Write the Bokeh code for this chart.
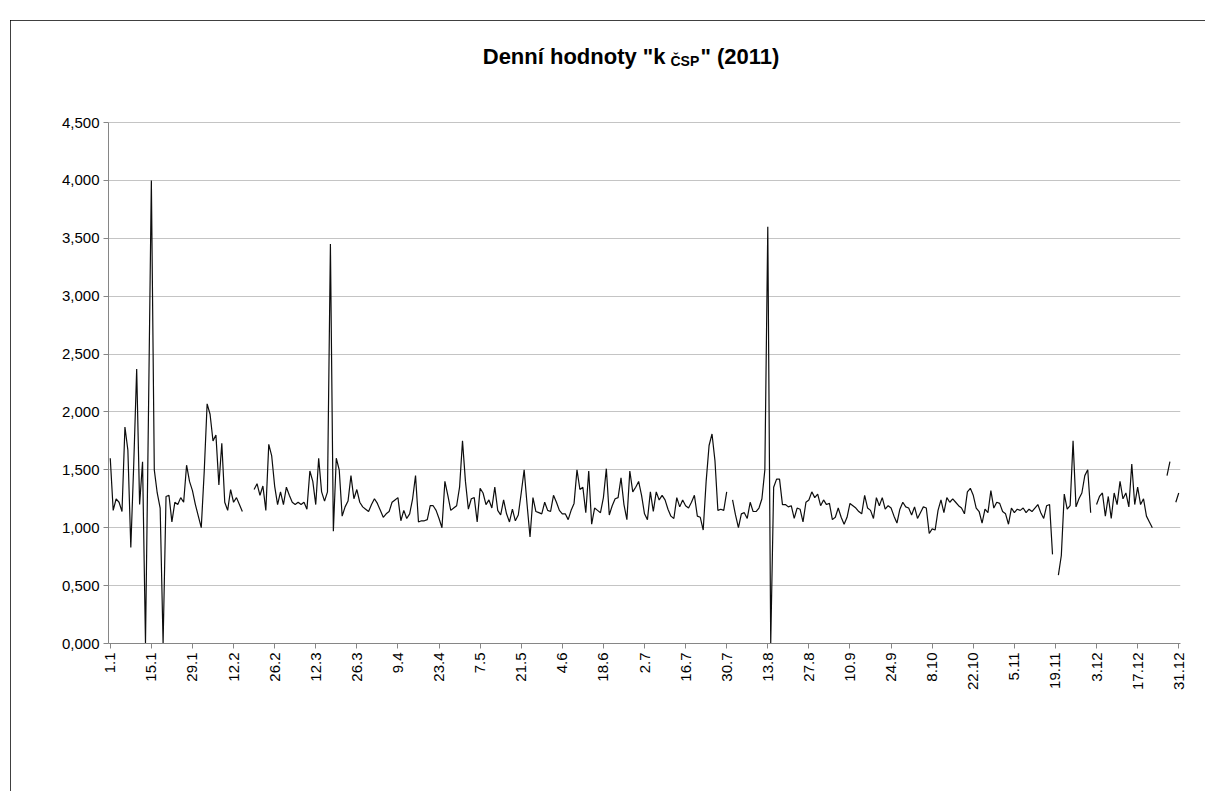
import math
import numpy as np
import pandas as pd
from bokeh.plotting import figure
from bokeh.models import (ColumnDataSource, Range1d, FixedTicker,
                          CustomJSTickFormatter)
from bokeh.core.properties import value
from bokeh.embed import file_html
from bokeh.resources import INLINE

# ---------------- data ----------------
year_days = pd.date_range("2011-01-01", "2011-12-31", freq="D")
day_labels = [f"{d.day}.{d.month}" for d in year_days]

tick_labels = ["1.1", "15.1", "29.1", "12.2", "26.2", "12.3", "26.3", "9.4",
               "23.4", "7.5", "21.5", "4.6", "18.6", "2.7", "16.7", "30.7",
               "13.8", "27.8", "10.9", "24.9", "8.10", "22.10", "5.11",
               "19.11", "3.12", "17.12", "31.12"]

y_ticks = [0.0, 0.5, 1.0, 1.5, 2.0, 2.5, 3.0, 3.5, 4.0, 4.5]

title_parts = ['Denní hodnoty "k', "ČSP", '" (2011)']

N = None
k_values = [
    1.60, 1.15, 1.25, 1.22, 1.14, 1.87, 1.67, 0.83, 1.55, 2.37,
    1.20, 1.57, 0.00, 1.95, 4.00, 1.50, 1.30, 1.17, 0.00, 1.27,
    1.28, 1.05, 1.22, 1.20, 1.26, 1.22, 1.54, 1.40, 1.32, 1.20,
    1.10, 1.00, 1.48, 2.07, 1.98, 1.75, 1.80, 1.37, 1.73, 1.22,
    1.15, 1.33, 1.22, 1.26, 1.20, 1.14, N, N, N, 1.33,
    1.38, 1.28, 1.36, 1.15, 1.72, 1.62, 1.36, 1.20, 1.31, 1.20,
    1.35, 1.28, 1.22, 1.20, 1.22, 1.20, 1.22, 1.16, 1.49, 1.40,
    1.20, 1.60, 1.31, 1.23, 1.31, 3.45, 0.97, 1.60, 1.50, 1.10,
    1.18, 1.23, 1.45, 1.25, 1.33, 1.22, 1.18, 1.16, 1.14, 1.20,
    1.25, 1.21, 1.15, 1.09, 1.12, 1.14, 1.22, 1.24, 1.26, 1.06,
    1.15, 1.08, 1.12, 1.25, 1.45, 1.05, 1.06, 1.06, 1.07, 1.19,
    1.19, 1.15, 1.08, 1.00, 1.40, 1.28, 1.15, 1.17, 1.19, 1.35,
    1.75, 1.40, 1.16, 1.25, 1.26, 1.05, 1.34, 1.30, 1.20, 1.24,
    1.17, 1.35, 1.15, 1.11, 1.24, 1.12, 1.05, 1.16, 1.06, 1.11,
    1.30, 1.50, 1.20, 0.92, 1.26, 1.14, 1.13, 1.12, 1.22, 1.15,
    1.14, 1.28, 1.22, 1.15, 1.12, 1.12, 1.07, 1.15, 1.21, 1.50,
    1.33, 1.35, 1.13, 1.49, 1.03, 1.17, 1.15, 1.13, 1.26, 1.51,
    1.11, 1.19, 1.25, 1.26, 1.43, 1.20, 1.07, 1.49, 1.31, 1.35,
    1.40, 1.28, 1.12, 1.07, 1.31, 1.14, 1.31, 1.24, 1.28, 1.24,
    1.16, 1.10, 1.08, 1.26, 1.18, 1.24, 1.19, 1.17, 1.22, 1.28,
    1.10, 1.09, 0.98, 1.40, 1.71, 1.81, 1.58, 1.15, 1.16, 1.15,
    1.31, N, 1.24, 1.11, 1.00, 1.12, 1.13, 1.08, 1.22, 1.14,
    1.14, 1.17, 1.25, 1.50, 3.60, 0.00, 1.35, 1.42, 1.42, 1.20,
    1.20, 1.18, 1.19, 1.08, 1.17, 1.16, 1.05, 1.22, 1.24, 1.31,
    1.26, 1.29, 1.19, 1.24, 1.20, 1.21, 1.07, 1.09, 1.17, 1.09,
    1.03, 1.09, 1.21, 1.19, 1.17, 1.14, 1.12, 1.28, 1.17, 1.15,
    1.08, 1.26, 1.19, 1.26, 1.16, 1.19, 1.17, 1.10, 1.04, 1.16,
    1.22, 1.18, 1.17, 1.11, 1.18, 1.08, 1.13, 1.18, 1.17, 0.95,
    0.99, 0.98, 1.15, 1.24, 1.13, 1.26, 1.22, 1.25, 1.22, 1.19,
    1.17, 1.12, 1.31, 1.34, 1.28, 1.17, 1.14, 1.04, 1.16, 1.13,
    1.32, 1.17, 1.22, 1.21, 1.14, 1.12, 1.03, 1.17, 1.13, 1.16,
    1.15, 1.17, 1.13, 1.16, 1.14, 1.17, 1.20, 1.13, 1.08, 1.19,
    1.20, 0.77, N, 0.59, 0.76, 1.29, 1.16, 1.19, 1.75, 1.18,
    1.25, 1.30, 1.45, 1.50, 1.13, N, 1.20, 1.27, 1.30, 1.10,
    1.27, 1.08, 1.30, 1.20, 1.40, 1.25, 1.30, 1.18, 1.55, 1.20,
    1.35, 1.20, 1.25, 1.10, 1.05, 1.00, N, N, N, N,
    1.45, 1.57, N, 1.22, 1.30,
]

# ---------------- build ----------------
x_idx = list(range(len(k_values)))
y_arr = np.array([np.nan if v is None else v for v in k_values], dtype=float)
src = ColumnDataSource(dict(x=x_idx, y=y_arr))

tick_pos = [day_labels.index(t) for t in tick_labels]

FONT = "Liberation Sans"

# figure (placed 10px from left, 20px from top of page, framed by a 1px outline)
W, H = 1195, 771
BL, BR, BT, BB = 98, 25, 2, 148
FW, FH = W - BL - BR, H - BT - BB
AXIS_PX = 521                      # pixel height of the 0 .. 4.5 value axis
X0, X1 = -0.6, len(k_values) - 0.4
Y0 = 0.0
Y1 = y_ticks[-1] * FH / AXIS_PX    # frame extends above 4.5 to hold the title

p = figure(width=W, height=H, output_backend="svg", toolbar_location=None,
           x_range=Range1d(X0, X1), y_range=Range1d(Y0, Y1),
           min_border_left=BL, min_border_right=BR, min_border_top=BT,
           min_border_bottom=BB, background_fill_color="white",
           border_fill_color="white", margin=(20, 0, 0, 10),
           styles={"outline": "1px solid black", "outline-offset": "-1px"})
p.outline_line_color = None

p.line("x", "y", source=src, line_color="#0d0d0d", line_width=1.2)

# y axis
p.yaxis.ticker = FixedTicker(ticks=y_ticks)
p.yaxis.bounds = (y_ticks[0], y_ticks[-1])
p.yaxis.formatter = CustomJSTickFormatter(
    code="return tick.toFixed(3).replace('.', ',');")
p.yaxis.axis_line_color = "#868686"
p.yaxis.major_tick_line_color = "#868686"
p.yaxis.major_tick_out = 5
p.yaxis.major_tick_in = 0
p.yaxis.minor_tick_line_color = None
p.yaxis.major_label_standoff = 4
p.yaxis.major_label_text_font = FONT
p.yaxis.major_label_text_font_size = "15px"
p.yaxis.major_label_text_color = "black"

# x axis
p.xaxis.ticker = FixedTicker(ticks=tick_pos)
p.xaxis.major_label_overrides = {pos: lab for pos, lab in zip(tick_pos, tick_labels)}
p.xaxis.major_label_orientation = math.pi / 2
p.xaxis.axis_line_color = "#868686"
p.xaxis.major_tick_line_color = "#868686"
p.xaxis.major_tick_out = 5
p.xaxis.major_tick_in = 0
p.xaxis.minor_tick_line_color = None
p.xaxis.major_label_standoff = 4
p.xaxis.major_label_text_font = FONT
p.xaxis.major_label_text_font_size = "15px"
p.xaxis.major_label_text_color = "black"

p.xgrid.grid_line_color = None
p.ygrid.ticker = FixedTicker(ticks=y_ticks)
p.ygrid.grid_line_color = "#c4c4c4"
p.ygrid.grid_line_width = 1


# title (with subscript) drawn as text inside the extended frame
def dx(fx):
    return X0 + (fx - BL) * (X1 - X0) / FW


def dy(fy):
    return Y1 - (fy - BT) * (Y1 - Y0) / FH


p.text(x=[dx(655)], y=[dy(36)], text=[title_parts[0]], text_align="right",
       text_baseline="alphabetic", text_font=value(FONT), text_font_style="bold",
       text_font_size="22px", text_color="black")
p.text(x=[dx(660)], y=[dy(40)], text=[title_parts[1]], text_align="left",
       text_baseline="alphabetic", text_font=value(FONT), text_font_style="bold",
       text_font_size="14px", text_color="black")
p.text(x=[dx(690)], y=[dy(36)], text=[title_parts[2]], text_align="left",
       text_baseline="alphabetic", text_font=value(FONT), text_font_style="bold",
       text_font_size="22px", text_color="black")

open("out.html", "w").write(file_html(p, INLINE))
